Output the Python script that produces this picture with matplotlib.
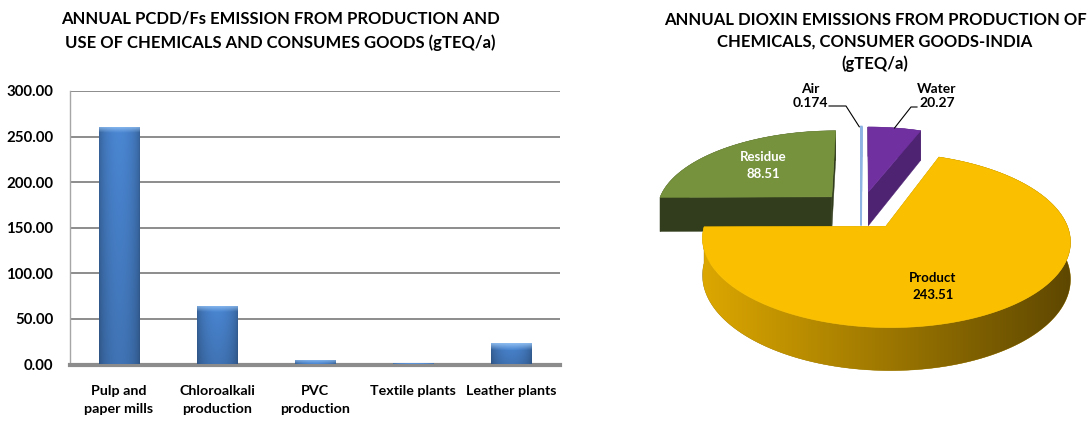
import matplotlib.pyplot as plt
import numpy as np
from matplotlib.patches import Polygon
from matplotlib.colors import to_rgb

plt.rcParams['font.family'] = ['Lato', 'DejaVu Sans']

# bar chart data (gTEQ/a)
categories = ['Pulp and\npaper mills', 'Chloroalkali\nproduction', 'PVC\nproduction',
              'Textile plants', 'Leather plants']
emissions = [260.4, 64.1, 4.9, 1.6, 23.2]
yticks = [0, 50, 100, 150, 200, 250, 300]

# pie chart data (gTEQ/a), clockwise from 12 o'clock
pie_labels = ['Air', 'Water', 'Product', 'Residue']
pie_values = [0.174, 20.27, 243.51, 88.51]
top_colors = ['#8DB4E2', '#7030A0', '#FAC000', '#76923C']
side_colors = ['#8DB4E2', '#4E2372', '#A07C00', '#323D1D']

W, H = 1092, 423
fig = plt.figure(figsize=(W / 100, H / 100), dpi=100)

# ---------------- bar chart ----------------
ax = fig.add_axes([70 / W, 58.5 / H, 490 / W, 273.5 / H])
x = np.arange(len(categories))
bars = ax.bar(x, emissions, width=0.41, color='#4A7EBB', zorder=2)

# shaded fill for each bar: darker edges, light bevel on top
cols = np.linspace(0, 1, 64)
shade = 0.72 + 0.28 * np.sin(np.pi * cols) ** 0.6
base = np.array(to_rgb('#4A86D2'))
for rect in bars:
    x0, w, hgt = rect.get_x(), rect.get_width(), rect.get_height()
    rows = np.linspace(0, 1, 64)[:, None]
    img = base[None, None, :] * shade[None, :, None] * (0.86 + 0.14 * rows[:, :, None])
    img = np.clip(img, 0, 1)
    im = ax.imshow(img, extent=[x0, x0 + w, 0, hgt], origin='lower',
                   aspect='auto', zorder=3, interpolation='bilinear')
    im.set_clip_path(rect)
    bev = min(7.0, hgt)
    top = np.linspace(0, 1, 16)[:, None]
    light = np.array(to_rgb('#8DBCF0'))
    bimg = base[None, None, :] * shade[None, :, None] * (1 - top[:, :, None]) \
        + light[None, None, :] * top[:, :, None]
    bimg = np.clip(bimg * (0.85 + 0.15 * shade[None, :, None]), 0, 1)
    im2 = ax.imshow(bimg, extent=[x0, x0 + w, hgt - bev, hgt], origin='lower',
                    aspect='auto', zorder=4, interpolation='bilinear')
    im2.set_clip_path(rect)

ax.set_xlim(-0.5, len(categories) - 0.5)
ax.set_ylim(0, 300)
ax.set_yticks(yticks)
ax.set_yticklabels(['%.2f' % v for v in yticks], fontsize=10.8, fontweight='bold')
ax.set_xticks(x)
ax.set_xticklabels(categories, fontsize=10.3, fontweight='bold', linespacing=1.6)
ax.tick_params(axis='y', length=0, pad=12)
ax.tick_params(axis='x', length=0, pad=15)
ax.yaxis.grid(True, color='#8C8C8C', lw=1.4, zorder=0)
ax.set_axisbelow(True)
for s in ['top', 'right']:
    ax.spines[s].set_visible(False)
ax.spines['left'].set_color('#A6A6A6')
ax.spines['left'].set_linewidth(1.0)
ax.spines['bottom'].set_color('#8C8C8C')
ax.spines['bottom'].set_linewidth(3)

# ---------------- 3D exploded pie ----------------
ov = fig.add_axes([0, 0, 1, 1])
ov.set_xlim(0, W)
ov.set_ylim(H, 0)
ov.axis('off')
ov.patch.set_visible(False)

cx, cy = 861, 210          # pie centre (px)
R, B = 176, 80             # horizontal radius, vertical half-depth
persp = 0.155              # perspective strength
thick = 35                 # slice thickness
explode = 0.24


def proj(u, v, drop=0.0):
    s = 1.0 / (1.0 + persp * v)
    return cx + u * R * s, cy - v * B * s + drop * s


total = sum(pie_values)
start = 90.0
slices = []
for i, val in enumerate(pie_values):
    span = val / total * 360
    t1, t2 = start, start - span
    start = t2
    mid = np.radians((t1 + t2) / 2)
    ou, ovv = explode * np.cos(mid), explode * np.sin(mid)
    n = max(2, int(abs(span) / 0.5) + 2)
    th = np.radians(np.linspace(t1, t2, n))
    slices.append(dict(i=i, ou=ou, ov=ovv, au=ou + np.cos(th), av=ovv + np.sin(th), mid=mid))

z = 10
for sl in sorted(slices, key=lambda d: -d['ov']):
    i = sl['i']
    ou, ovv, au, av = sl['ou'], sl['ov'], sl['au'], sl['av']
    lw = 1.3 if pie_labels[i] == 'Air' else 0.3
    # radial cut faces
    for k in (0, -1):
        pts = [proj(ou, ovv), proj(au[k], av[k]),
               proj(au[k], av[k], thick), proj(ou, ovv, thick)]
        ov.add_patch(Polygon(pts, closed=True, facecolor=side_colors[i],
                             edgecolor=side_colors[i], lw=lw, zorder=z))
    z += 1
    # outer curved wall as one band
    upper = [proj(u, v) for u, v in zip(au, av)]
    lower = [proj(u, v, thick) for u, v in zip(au, av)][::-1]
    wall = Polygon(upper + lower, closed=True, facecolor=side_colors[i],
                   edgecolor=side_colors[i], lw=lw, zorder=z)
    ov.add_patch(wall)
    z += 1
    if pie_labels[i] == 'Product':
        xs = np.array([p[0] for p in upper + lower])
        ys = np.array([p[1] for p in upper + lower])
        t = np.linspace(0, 1, 256)
        c0, c1 = np.array(to_rgb('#DCA700')), np.array(to_rgb('#5E4700'))
        grad = (1 - t)[:, None] * c0 + t[:, None] * c1
        gimg = np.repeat(grad[None, :, :], 4, axis=0)
        g = ov.imshow(gimg, extent=[xs.min(), xs.max(), ys.max(), ys.min()],
                      aspect='auto', zorder=z, interpolation='bilinear')
        g.set_clip_path(wall)
        z += 1
    top = [proj(ou, ovv)] + upper
    lw = 1.5 if pie_labels[i] == 'Air' else 0.4
    ov.add_patch(Polygon(top, closed=True, facecolor=top_colors[i],
                         edgecolor=top_colors[i], lw=lw, zorder=z))
    z += 1
    sl['outer'] = proj(ou + np.cos(sl['mid']), ovv + np.sin(sl['mid']))

ov.set_xlim(0, W)
ov.set_ylim(H, 0)

# data labels
lab = {s['i']: s for s in slices}
rs = lab[3]
px, py = proj(rs['ou'] + 0.62 * np.cos(rs['mid']), rs['ov'] + 0.62 * np.sin(rs['mid']))
ov.text(px, py, 'Residue\n%.2f' % pie_values[3], color='white', fontsize=9.5,
        fontweight='bold', ha='center', va='center', linespacing=1.45, zorder=200)
ps = lab[2]
ang = np.radians(-71)
px, py = proj(ps['ou'] + 0.67 * np.cos(ang), ps['ov'] + 0.67 * np.sin(ang))
ov.text(px, py, 'Product\n%.2f' % pie_values[2], color='black', fontsize=9.5,
        fontweight='bold', ha='center', va='center', linespacing=1.45, zorder=200)

ax_x, ax_y = lab[0]['outer']
ov.plot([829, 846, ax_x - 2], [106, 106, ax_y], color='black', lw=0.8, zorder=200)
ov.text(810, 96, 'Air\n%.3f' % pie_values[0], fontsize=10, fontweight='bold',
        ha='center', va='center', linespacing=1.25, zorder=200)
wx, wy = lab[1]['outer']
ov.plot([917, 911, wx], [107, 107, wy], color='black', lw=0.8, zorder=200)
ov.text(937, 96, 'Water\n%.2f' % pie_values[1], fontsize=10, fontweight='bold',
        ha='center', va='center', linespacing=1.25, zorder=200)

# titles
ov.text(280, 31, 'ANNUAL PCDD/Fs EMISSION FROM PRODUCTION AND\n'
        'USE OF CHEMICALS AND CONSUMES GOODS (gTEQ/a)',
        fontsize=12, fontweight='bold', ha='center', va='center', linespacing=1.55)
ov.text(875, 42, 'ANNUAL DIOXIN EMISSIONS FROM PRODUCTION OF\n'
        'CHEMICALS, CONSUMER GOODS-INDIA\n(gTEQ/a)',
        fontsize=12, fontweight='bold', ha='center', va='center', linespacing=1.4)

fig.savefig('out.png', dpi=100)
